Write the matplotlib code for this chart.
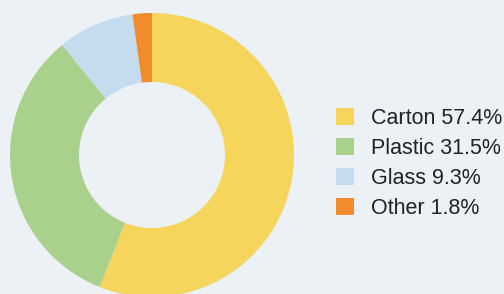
import matplotlib.pyplot as plt

# данные
labels = ['Carton', 'Plastic', 'Glass', 'Other']
shares = [57.4, 31.5, 9.3, 1.8]           # подписи в легенде
wedge_sizes = [56.0, 33.1, 8.7, 2.2]      # доли, как они нарисованы на кольце
colors = ['#f5d55c', '#aad18b', '#c5dcef', '#f28a2e']

bg = '#ecf1f6'
W, H = 504, 294

plt.rcParams['font.family'] = ['Liberation Sans', 'DejaVu Sans']

fig = plt.figure(figsize=(W / 100, H / 100), dpi=100, facecolor=bg)
# ось под круг: центр (152, 155) px, радиус 142 px
cx, cy, r = 152, 155, 142
ax = fig.add_axes([(cx - r) / W, (H - cy - r) / H, 2 * r / W, 2 * r / H])
ax.set_facecolor(bg)

wedges, _ = ax.pie(wedge_sizes, colors=colors, startangle=90, counterclock=False,
                   radius=1, wedgeprops=dict(width=1 - 73 / 142, linewidth=0))
ax.set_xlim(-1, 1)
ax.set_ylim(-1, 1)
ax.set_aspect('equal')
ax.axis('off')

legend_labels = [f'{l} {s}%' for l, s in zip(labels, shares)]
fig.legend(wedges, legend_labels, loc='upper left',
           bbox_to_anchor=(336 / W, 1 - 108 / H), frameon=False,
           fontsize=15.5, handlelength=0.85, handleheight=0.85,
           handletextpad=0.78, labelspacing=0.42, borderpad=0,
           borderaxespad=0, labelcolor='#222222')

fig.savefig('out.png', dpi=100, facecolor=bg)
